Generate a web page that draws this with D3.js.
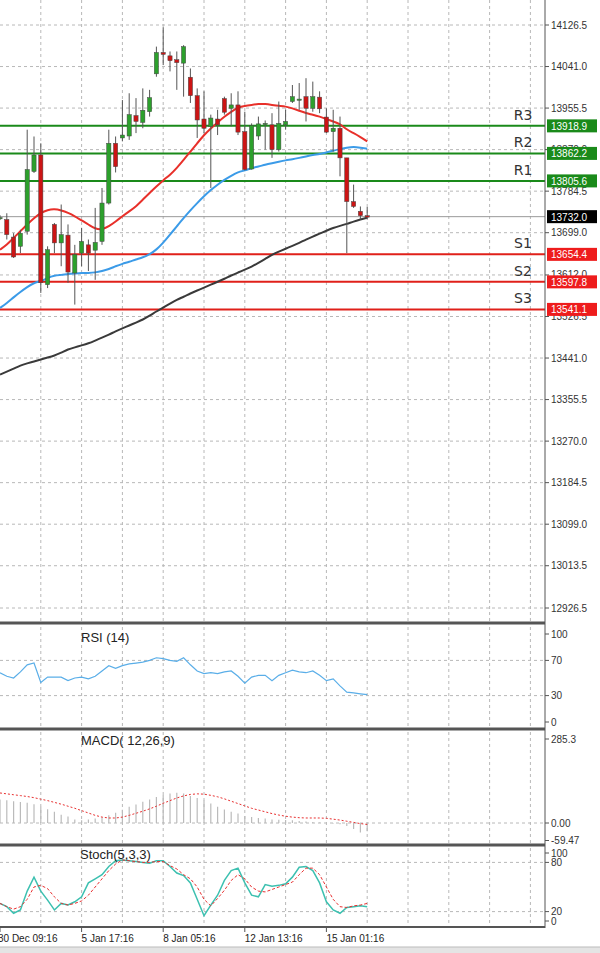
<!DOCTYPE html>
<html><head><meta charset="utf-8">
<script src="https://cdn.jsdelivr.net/npm/d3@7"></script>
<style>body{margin:0;background:#fff}svg{display:block;font-family:"Liberation Sans",Arial,sans-serif}</style>
</head><body><svg id="c" width="600" height="953"></svg>
<script>
const opens=[13729,13726,13690,13671,13702,13825,13859,13592,13716,13678,13694,13616,13657,13674,13663,13681,13760,13883,13894,13898,13940,13926,13948,14026,14070,14063,14055,14048,14019,13981,13933,13918,13933,13975,13955,13962,13907,13830,13898,13922,13921,13870,13921,13969,13972,13979,13955,13978,13937,13907,13914,13853,13763,13743,13734];
const highs=[13735,13739,13698,13705,13911,13897,13883,13671,13719,13757,13716,13674,13709,13685,13750,13791,13911,13897,13972,13986,13976,13996,13993,14082,14122,14072,14072,14085,14037,13996,13990,13942,13952,13979,13986,13990,13948,13924,13938,13930,13945,13969,13952,14003,14007,14017,14010,13990,13955,13952,13938,13853,13798,13753,13752];
const lows=[13725,13685,13647,13657,13695,13822,13575,13585,13657,13630,13596,13551,13630,13620,13602,13674,13757,13823,13887,13890,13904,13914,13938,14020,14044,14031,13993,13979,13966,13894,13904,13791,13900,13942,13918,13900,13827,13829,13890,13870,13853,13866,13911,13966,13952,13928,13948,13945,13904,13866,13815,13657,13750,13726,13726];
const closes=[13730,13695,13649,13698,13829,13859,13596,13664,13678,13695,13618,13654,13681,13657,13679,13760,13883,13835,13900,13942,13928,13951,13977,14070,14066,14053,14049,14082,13981,13931,13914,13935,13921,13947,13962,13906,13829,13920,13923,13924,13870,13924,13928,13979,13974,13955,13979,13954,13906,13914,13853,13763,13753,13734,13731];
const maFast=[13664,13674,13688,13702,13716,13729,13740,13746,13748,13745,13740,13733,13724,13716,13707,13705,13712,13722,13733,13743,13753,13767,13781,13794,13807,13818,13832,13849,13866,13883,13900,13914,13926,13938,13948,13957,13960,13962,13964,13964,13962,13960,13959,13955,13950,13945,13942,13938,13933,13928,13923,13911,13904,13896,13887];
const maMid=[13544,13554,13566,13577,13587,13596,13599,13606,13611,13612,13614,13615,13616,13616,13617,13620,13624,13630,13635,13639,13644,13648,13654,13664,13678,13695,13712,13729,13745,13760,13774,13787,13798,13808,13816,13824,13827,13832,13835,13839,13842,13845,13848,13850,13853,13856,13859,13861,13864,13868,13871,13874,13876,13874,13872];
const maSlow=[13407,13413,13419,13426,13430,13434,13438,13442,13446,13452,13459,13463,13467,13471,13477,13483,13489,13496,13502,13508,13514,13520,13528,13537,13545,13553,13561,13567,13574,13580,13586,13592,13598,13604,13611,13617,13623,13629,13637,13645,13654,13660,13666,13672,13678,13685,13691,13697,13703,13709,13713,13717,13722,13726,13730];
const rsi=[56,52,50,57,65,67,45,51,51,51,47,50,51,49,52,58,64,61,64,66,67,68,70,73,72,70,69,73,65,58,55,56,55,57,58,52,44,51,53,53,47,53,56,59,57,56,58,53,47,49,41,34,33,32,31];
const macdHist=[80,77,74,71,69,64,55,47,38,28,22,12,9,12,15,19,26,35,45,55,63,72,80,88,95,100,103,100,92,85,76,66,55,46,38,32,24,20,17,15,12,11,10,9,7,5,3,2,0,-2,-4,-10,-20,-32,-28];
const macdSignal=[102,99,96,93,90,86,81,76,70,64,57,50,42,34,26,20,17,17,20,26,33,40,48,57,67,76,85,92,97,99,98,94,89,82,74,66,58,50,44,38,32,27,23,20,18,17,17,17,16,13,10,6,2,-2,-5];
const stochK=[30,26,18,22,45,62,45,34,22,30,28,32,38,55,60,65,75,82,83,82,81,80,79,82,82,75,67,64,55,35,15,28,40,58,70,73,55,40,38,53,51,52,54,62,74,75,70,55,32,22,18,25,26,27,26];
const stochD=[30,26,23,26,35,50,52,48,38,30,28,30,33,40,50,60,70,78,83,82,81,80,80,81,81,76,72,65,60,50,35,27,36,46,58,65,60,50,45,44,47,50,53,56,65,73,73,65,50,35,26,25,27,28,30];
const priceTicks=["14126.5","14041.0","13955.5","13870.0","13784.5","13699.0","13612.0","13526.5","13441.0","13355.5","13270.0","13184.5","13099.0","13013.5","12926.5"];
const levelNames=["R3","R2","R1","S1","S2","S3"];
const levelValues=[13918.9,13862.2,13805.6,13654.4,13597.8,13541.1];
const lastPrice=13732.0;
const timeLabels=["30 Dec 09:16","5 Jan 17:16","8 Jan 05:16","12 Jan 13:16","15 Jan 01:16"];
const timeLabelIdx=[0,12,24,36,48];

const svg=d3.select("#c");
const AX=545;
const x=d3.scaleLinear().domain([0,80]).range([0,544]);
const y=d3.scaleLinear().domain([12926.5,14126.5]).range([608,25]);
const gridC="#b8b8b8";
const idx=d3.range(opens.length);

function panel(top,bot){
  // vertical grid
  for(let i=6;i<=78;i+=6) svg.append("line").attr("x1",x(i)).attr("x2",x(i)).attr("y1",top).attr("y2",bot)
    .attr("stroke",gridC).attr("stroke-dasharray","3,3");
}
function hgrid(yy){svg.append("line").attr("x1",0).attr("x2",AX).attr("y1",yy).attr("y2",yy).attr("stroke",gridC).attr("stroke-dasharray","3,3");}
function tickLab(yy,t){
  svg.append("line").attr("x1",AX).attr("x2",AX+4).attr("y1",yy).attr("y2",yy).attr("stroke","#555");
  svg.append("text").attr("x",AX+6).attr("y",yy+3.5).attr("font-size",10).attr("fill","#333").text(t);
}

// main panel
panel(0,621);
priceTicks.forEach(t=>hgrid(y(+t)));
priceTicks.forEach(t=>tickLab(y(+t),t));

// levels
levelNames.forEach((n,k)=>{
  const col=n[0]==="R"?"#1a8a1a":"#e0201a";
  svg.append("line").attr("x1",0).attr("x2",AX).attr("y1",y(levelValues[k])).attr("y2",y(levelValues[k])).attr("stroke",col).attr("stroke-width",2);
  svg.append("text").attr("x",523).attr("y",y(levelValues[k])-6).attr("text-anchor","middle").attr("font-size",14).attr("font-family","DejaVu Sans").attr("fill","#333").text(n);
});
svg.append("line").attr("x1",0).attr("x2",AX).attr("y1",y(lastPrice)).attr("y2",y(lastPrice)).attr("stroke","#999");

// MAs
const lineG=(arr,col,w)=>svg.append("path").datum(arr).attr("fill","none").attr("stroke",col).attr("stroke-width",w)
  .attr("d",d3.line().x((d,i)=>x(i)).y(d=>y(d)).curve(d3.curveBasis));
lineG(maSlow,"#3a3a3a",2);
lineG(maMid,"#3b9be8",2);
lineG(maFast,"#e8302a",2);

// candles
const cw=4.2;
idx.forEach(i=>{
  const up=closes[i]>=opens[i];
  const col=up?"#2ca02c":"#cc1414";
  svg.append("line").attr("x1",x(i)).attr("x2",x(i)).attr("y1",y(highs[i])).attr("y2",y(lows[i])).attr("stroke","#555");
  const t=y(Math.max(opens[i],closes[i])), b=y(Math.min(opens[i],closes[i]));
  svg.append("rect").attr("x",x(i)-cw/2).attr("y",t).attr("width",cw).attr("height",Math.max(1.2,b-t)).attr("fill",col).attr("stroke","#444").attr("stroke-width",0.5);
});

// level labels
const badge=(v,bg)=>{
  svg.append("rect").attr("x",AX+2).attr("y",y(v)-6.5).attr("width",50).attr("height",13).attr("fill",bg);
  svg.append("text").attr("x",AX+6).attr("y",y(v)+4).attr("font-size",10).attr("fill","#fff").text(v.toFixed(1));
};
levelNames.forEach((n,k)=>badge(levelValues[k],n[0]==="R"?"#1a8a1a":"#ee1c1c"));
badge(lastPrice,"#000");

// RSI
const rY=d3.scaleLinear().domain([0,100]).range([722,634]);
panel(627,728);
[70,30].forEach(v=>hgrid(rY(v)));
[100,70,30,0].forEach(v=>tickLab(rY(v),v));
svg.append("path").datum(rsi).attr("fill","none").attr("stroke","#5aaee8").attr("stroke-width",1.2)
  .attr("d",d3.line().x((d,i)=>x(i)).y(d=>rY(d)));
svg.append("text").attr("x",81).attr("y",642).attr("font-size",13).attr("fill","#222").text("RSI (14)");

// MACD
const mY=d3.scaleLinear().domain([0,285.3]).range([823,739]);
panel(732,844);
hgrid(mY(0));
tickLab(mY(285.3),"285.3");tickLab(mY(0),"0.00");tickLab(mY(-59.47),"-59.47");
idx.forEach(i=>svg.append("line").attr("x1",x(i)).attr("x2",x(i)).attr("y1",mY(0)).attr("y2",mY(macdHist[i])).attr("stroke","#bbb").attr("stroke-width",1.2));
svg.append("path").datum(macdSignal).attr("fill","none").attr("stroke","#e83030").attr("stroke-dasharray","2,2")
  .attr("d",d3.line().x((d,i)=>x(i)).y(d=>mY(d)));
svg.append("text").attr("x",81).attr("y",745).attr("font-size",13).attr("fill","#222").text("MACD( 12,26,9)");

// Stoch
const sY=d3.scaleLinear().domain([0,100]).range([928,846]);
panel(848,926);
[80,20].forEach(v=>hgrid(sY(v)));
tickLab(853,"100");tickLab(sY(80),"80");tickLab(sY(20),"20");tickLab(921,"0");
svg.append("path").datum(stochK).attr("fill","none").attr("stroke","#3cc0b0").attr("stroke-width",1.5)
  .attr("d",d3.line().x((d,i)=>x(i)).y(d=>sY(d)));
svg.append("path").datum(stochD).attr("fill","none").attr("stroke","#e83030").attr("stroke-dasharray","3,2")
  .attr("d",d3.line().x((d,i)=>x(i)).y(d=>sY(d)));
svg.append("text").attr("x",80).attr("y",859).attr("font-size",13).attr("fill","#222").text("Stoch(5,3,3)");

// borders
[[623,3],[729,3],[845,3],[927,2]].forEach(([yy,w])=>svg.append("line").attr("x1",0).attr("x2",AX).attr("y1",yy).attr("y2",yy).attr("stroke","#555").attr("stroke-width",w));
svg.append("line").attr("x1",AX).attr("x2",AX).attr("y1",0).attr("y2",928).attr("stroke","#555");

// x labels
timeLabels.forEach((t,k)=>{
  svg.append("line").attr("x1",x(timeLabelIdx[k])).attr("x2",x(timeLabelIdx[k])).attr("y1",928).attr("y2",932).attr("stroke","#555");
  svg.append("text").attr("x",x(timeLabelIdx[k])+(k?0:-2)).attr("y",942).attr("font-size",10).attr("fill","#222").text(t);
});
svg.append("rect").attr("x",0).attr("y",947).attr("width",600).attr("height",6).attr("fill","#e4e4e4");
svg.append("line").attr("x1",0).attr("x2",600).attr("y1",947).attr("y2",947).attr("stroke","#bbb");
</script></body></html>
